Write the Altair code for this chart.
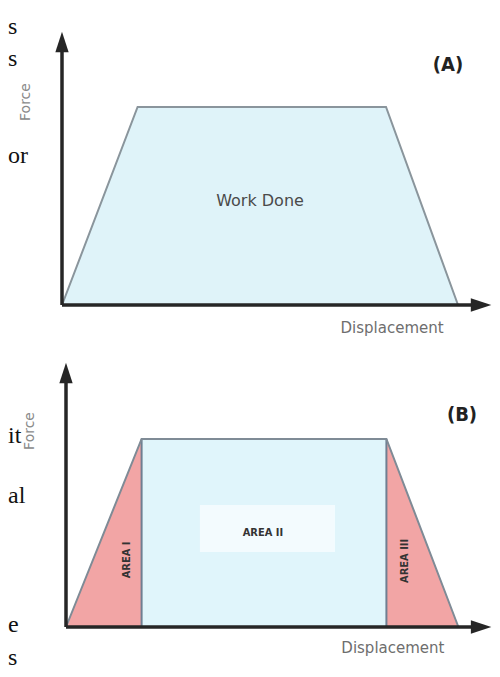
import altair as alt
import pandas as pd

# ---------------- data ----------------
# Panel A: force-displacement curve (work done)
disp_a = [0.0, 2.1, 9.0, 11.0]
force_a = [0.0, 8.0, 8.0, 0.0]

# Panel B: same curve split in three areas
disp_b = [0.0, 2.1, 8.9, 10.9]
force_b = [0.0, 7.6, 7.6, 0.0]
region_names = ["AREA I", "AREA II", "AREA III"]
region_colors = ["#f2a5a5", "#e0f5fb", "#f2a5a5"]

x_title = "Displacement"
y_title = "Force"
panel_tags = ["(A)", "(B)"]
centre_label = "Work Done"

# fragments of the surrounding page text (at the left edge)
frag_a = ["s", "s", "or"]
frag_b = ["it", "al", "e", "s"]

FONT = "DejaVu Sans"
COND = "DejaVu Sans Condensed, Liberation Sans Narrow, DejaVu Sans"
AX_COL = "#262626"
OUT_COL = "#7f8b96"


def axes_layers(xdom, ydom, ytip, xtip):
    xs = alt.Scale(domain=xdom, nice=False, zero=False)
    ys = alt.Scale(domain=ydom, nice=False, zero=False)
    axis_df = pd.DataFrame({"d": [0.0], "f": [0.0], "ytip": [ytip], "xtip": [xtip]})
    base = alt.Chart(axis_df)
    yline = base.mark_rule(color=AX_COL, strokeWidth=3.5).encode(
        x=alt.X("d:Q", scale=xs, axis=None),
        y=alt.Y("f:Q", scale=ys, axis=None),
        y2="ytip:Q",
    )
    xline = base.mark_rule(color=AX_COL, strokeWidth=3.5).encode(
        x=alt.X("d:Q", scale=xs, axis=None),
        x2="xtip:Q",
        y=alt.Y("f:Q", scale=ys, axis=None),
    )
    yarrow = base.mark_point(
        shape="M-0.65,1L0,-1L0.65,1Z", filled=True, color=AX_COL, size=420, opacity=1
    ).encode(
        x=alt.X("d:Q", scale=xs, axis=None),
        y=alt.Y("ytip:Q", scale=ys, axis=None),
    )
    xarrow = base.mark_point(
        shape="M-1,-0.65L1,0L-1,0.65Z", filled=True, color=AX_COL, size=420, opacity=1
    ).encode(
        x=alt.X("xtip:Q", scale=xs, axis=None),
        y=alt.Y("f:Q", scale=ys, axis=None),
    )
    return xs, ys, [yline, xline, yarrow, xarrow]


def text_layer(txt, d, f, xs, ys, **kw):
    df = pd.DataFrame({"d": [d], "f": [f], "t": [txt]})
    return alt.Chart(df).mark_text(**kw).encode(
        x=alt.X("d:Q", scale=xs, axis=None),
        y=alt.Y("f:Q", scale=ys, axis=None),
        text="t:N",
    )


def frag_layers(frags, ys_px):
    out = []
    for t, yy in zip(frags, ys_px):
        out.append(
            alt.Chart(pd.DataFrame({"t": [t]})).mark_text(
                font="Liberation Serif", fontSize=24, color="#111111",
                align="left", baseline="alphabetic",
            ).encode(x=alt.value(0), y=alt.value(yy), text="t:N")
        )
    return out


# ---------------- panel A ----------------
xs_a, ys_a, ax_a = axes_layers([-1.5, 11.944], [-1.414, 12.0], 10.63, 11.64)
df_a = pd.DataFrame({"d": disp_a, "f": force_a, "base": [0.0] * 4, "o": list(range(4))})
area_a = alt.Chart(df_a).mark_area(color="#dff3f9", opacity=1).encode(
    x=alt.X("d:Q", scale=xs_a, axis=None),
    y=alt.Y("f:Q", scale=ys_a, axis=None, stack=None),
    y2="base:Q",
)
outline_a = alt.Chart(df_a).mark_line(color="#8a959c", strokeWidth=2).encode(
    x=alt.X("d:Q", scale=xs_a, axis=None),
    y=alt.Y("f:Q", scale=ys_a, axis=None),
    order="o:Q",
)
texts_a = [
    text_layer(centre_label, 5.5, 4.2, xs_a, ys_a, font=FONT, fontSize=16, color="#4a4a4a"),
    text_layer(panel_tags[0], 10.72, 9.7, xs_a, ys_a, font=COND,
               fontSize=20, fontWeight="bold", color="#222222"),
    text_layer(x_title, 9.17, -0.93, xs_a, ys_a, font=FONT, fontSize=15, color="#6e6e6e"),
    text_layer(y_title, -1.0, 8.2, xs_a, ys_a, font=FONT, fontSize=14, color="#8a8a8a", angle=270),
]
panel_a = alt.layer(area_a, outline_a, *ax_a, *texts_a, *frag_layers(frag_a, [26, 58, 155])).properties(
    width=484, height=332
)

# ---------------- panel B ----------------
xs_b, ys_b, ax_b = axes_layers([-1.611, 11.833], [-1.697, 11.596], 10.26, 11.53)
rows = []
for i, name in enumerate(region_names):
    rows.append({"region": name, "d": disp_b[i], "f": force_b[i], "base": 0.0})
    rows.append({"region": name, "d": disp_b[i + 1], "f": force_b[i + 1], "base": 0.0})
df_b = pd.DataFrame(rows)
area_b = alt.Chart(df_b).mark_area(opacity=1).encode(
    x=alt.X("d:Q", scale=xs_b, axis=None),
    y=alt.Y("f:Q", scale=ys_b, axis=None, stack=None),
    y2="base:Q",
    color=alt.Color("region:N", scale=alt.Scale(domain=region_names, range=region_colors), legend=None),
    detail="region:N",
)
df_bo = pd.DataFrame({"d": disp_b, "f": force_b, "o": list(range(4))})
outline_b = alt.Chart(df_bo).mark_line(color=OUT_COL, strokeWidth=2).encode(
    x=alt.X("d:Q", scale=xs_b, axis=None),
    y=alt.Y("f:Q", scale=ys_b, axis=None),
    order="o:Q",
)
df_div = pd.DataFrame({"d": disp_b[1:3], "f": force_b[1:3], "base": [0.0, 0.0]})
dividers = alt.Chart(df_div).mark_rule(color="#6f7f92", strokeWidth=2).encode(
    x=alt.X("d:Q", scale=xs_b, axis=None),
    y=alt.Y("f:Q", scale=ys_b, axis=None),
    y2="base:Q",
)
label_box = alt.Chart(pd.DataFrame({"a": [3.72], "b": [7.47], "c": [3.03], "e": [4.93]})).mark_rect(
    color="#f5fcfe", opacity=0.9
).encode(
    x=alt.X("a:Q", scale=xs_b, axis=None), x2="b:Q",
    y=alt.Y("c:Q", scale=ys_b, axis=None), y2="e:Q",
)
texts_b = [
    text_layer(region_names[1], 5.47, 3.8, xs_b, ys_b, font=COND,
               fontSize=11, fontWeight="bold", color="#333333"),
    text_layer(region_names[0], 1.69, 2.71, xs_b, ys_b, font=COND,
               fontSize=11, fontWeight="bold", color="#333333", angle=270),
    text_layer(region_names[2], 9.42, 2.67, xs_b, ys_b, font=COND,
               fontSize=11, fontWeight="bold", color="#333333", angle=270),
    text_layer(panel_tags[1], 11.0, 8.57, xs_b, ys_b, font=COND,
               fontSize=20, fontWeight="bold", color="#222222"),
    text_layer(x_title, 9.08, -0.85, xs_b, ys_b, font=FONT, fontSize=15, color="#6e6e6e"),
    text_layer(y_title, -1.0, 7.92, xs_b, ys_b, font=FONT, fontSize=14, color="#8a8a8a", angle=270),
]
panel_b = alt.layer(
    area_b, dividers, outline_b, label_box, *ax_b, *texts_b, *frag_layers(frag_b, [103, 163, 292, 325])
).properties(width=484, height=329)

chart = (
    alt.vconcat(panel_a, panel_b, spacing=0)
    .properties(padding=0, background="white")
    .configure_view(stroke=None)
)

chart.save("out.html", embed_options={"renderer": "svg", "actions": False})
